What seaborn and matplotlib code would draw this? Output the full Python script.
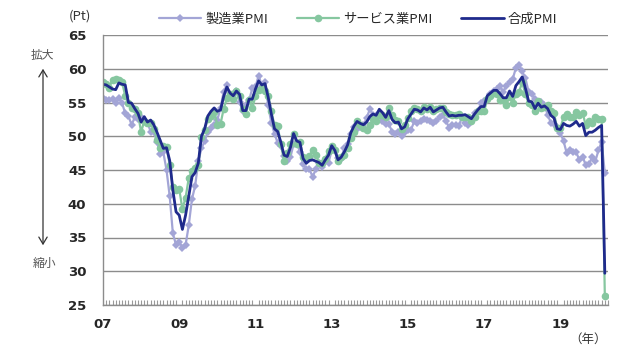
import numpy as np
import pandas as pd
import matplotlib
matplotlib.use("Agg")
import matplotlib.pyplot as plt
import seaborn as sns

# Monthly data, Jan 2007 - Mar 2020
manufacturing = [
    55.6, 55.4, 55.4, 55.5, 55.0, 55.7, 54.9, 53.4, 53.0, 51.7, 52.8, 52.6,   # 2007
    52.8, 52.3, 52.0, 50.7, 50.6, 49.2, 47.4, 47.6, 45.0, 41.1, 35.6, 33.9,   # 2008
    34.4, 33.5, 33.9, 36.8, 40.7, 42.6, 46.3, 48.2, 49.3, 50.7, 51.2, 51.6,   # 2009
    52.4, 54.2, 56.6, 57.6, 55.8, 55.6, 56.7, 55.1, 53.7, 54.6, 55.3, 57.1,   # 2010
    57.3, 59.0, 57.5, 58.0, 54.6, 52.0, 50.4, 49.0, 48.5, 47.1, 46.4, 46.9,   # 2011
    48.8, 49.0, 47.7, 45.9, 45.1, 45.1, 44.0, 45.1, 46.1, 45.4, 46.2, 46.1,   # 2012
    47.9, 47.9, 46.8, 46.7, 48.3, 48.8, 50.3, 51.4, 51.1, 51.3, 51.6, 52.7,   # 2013
    54.0, 53.2, 53.0, 53.4, 52.2, 51.8, 51.8, 50.7, 50.3, 50.6, 50.1, 50.6,   # 2014
    51.0, 51.0, 52.2, 52.0, 52.2, 52.5, 52.4, 52.3, 52.0, 52.3, 52.8, 53.2,   # 2015
    52.3, 51.2, 51.6, 51.7, 51.5, 52.8, 52.0, 51.7, 52.6, 53.5, 53.7, 54.9,   # 2016
    55.2, 55.4, 56.2, 56.7, 57.0, 57.4, 56.6, 57.4, 58.1, 58.5, 60.1, 60.6,   # 2017
    59.6, 58.6, 56.6, 56.2, 55.5, 54.9, 55.1, 54.6, 53.2, 52.0, 51.8, 51.4,   # 2018
    50.5, 49.3, 47.5, 47.9, 47.7, 47.6, 46.5, 47.0, 45.7, 45.9, 46.9, 46.3,   # 2019
    47.9, 49.2, 44.5,                                                         # 2020
]
services = [
    58.0, 57.7, 57.2, 58.4, 58.5, 58.3, 58.0, 56.0, 55.0, 54.2, 54.1, 53.4,   # 2007
    50.6, 52.3, 52.0, 52.0, 51.1, 49.5, 48.3, 48.5, 48.4, 45.8, 42.5, 42.1,   # 2008
    42.2, 39.2, 40.9, 43.8, 44.8, 45.3, 45.7, 49.9, 50.9, 52.6, 53.0, 53.6,   # 2009
    51.7, 51.8, 54.1, 55.6, 56.2, 55.5, 56.7, 55.9, 54.1, 53.3, 55.4, 54.2,   # 2010
    55.9, 56.8, 57.2, 56.7, 56.0, 53.7, 51.6, 51.5, 48.8, 46.4, 47.5, 48.8,   # 2011
    50.4, 48.8, 49.2, 46.9, 46.7, 47.1, 47.9, 47.2, 46.1, 46.0, 46.7, 47.8,   # 2012
    48.6, 47.9, 46.4, 47.0, 47.2, 48.3, 49.8, 50.7, 52.2, 51.6, 51.2, 51.0,   # 2013
    51.6, 52.6, 52.2, 53.1, 53.2, 52.8, 54.2, 53.1, 52.4, 52.3, 51.1, 51.6,   # 2014
    52.7, 53.7, 54.2, 54.1, 53.8, 54.4, 54.0, 54.4, 53.7, 54.1, 54.2, 54.2,   # 2015
    53.6, 53.3, 53.1, 53.1, 53.3, 52.8, 52.9, 52.8, 52.2, 52.8, 53.8, 53.7,   # 2016
    53.7, 55.5, 56.0, 56.4, 56.3, 55.4, 55.4, 54.7, 55.8, 55.0, 56.2, 56.6,   # 2017
    58.0, 56.2, 54.9, 54.7, 53.8, 55.2, 54.2, 54.4, 54.7, 53.7, 53.4, 51.2,   # 2018
    51.2, 52.8, 53.3, 52.8, 52.9, 53.6, 53.2, 53.5, 51.6, 52.2, 51.9, 52.8,   # 2019
    52.5, 52.6, 26.4,                                                         # 2020
]
composite = [
    57.7, 57.6, 57.3, 57.0, 56.9, 57.9, 57.7, 57.6, 55.0, 54.9, 54.1, 53.4,   # 2007
    52.1, 52.9, 52.1, 52.4, 51.7, 50.6, 49.4, 48.2, 48.3, 46.4, 42.0, 38.8,   # 2008
    38.3, 36.2, 38.3, 41.1, 44.0, 44.6, 46.0, 50.0, 51.1, 53.0, 53.7, 54.2,   # 2009
    53.7, 53.9, 55.9, 57.3, 56.4, 56.0, 56.7, 56.2, 53.8, 53.8, 55.5, 55.5,   # 2010
    57.0, 58.2, 57.6, 57.8, 55.8, 53.3, 51.1, 50.7, 49.1, 47.2, 47.0, 48.3,   # 2011
    50.4, 49.3, 49.1, 46.7, 46.0, 46.4, 46.5, 46.3, 46.1, 45.7, 46.5, 47.2,   # 2012
    48.6, 47.9, 46.5, 46.9, 47.7, 48.7, 50.5, 51.5, 52.2, 51.9, 51.7, 52.1,   # 2013
    52.9, 53.3, 53.1, 54.0, 53.5, 52.8, 53.8, 52.5, 52.0, 52.1, 51.1, 51.4,   # 2014
    52.6, 53.3, 54.0, 53.9, 53.6, 54.2, 53.9, 54.3, 53.6, 53.9, 54.2, 54.3,   # 2015
    53.6, 53.0, 53.1, 53.0, 53.1, 53.1, 53.2, 52.9, 52.6, 53.3, 53.9, 54.4,   # 2016
    54.4, 56.0, 56.4, 56.8, 56.8, 56.3, 55.7, 55.7, 56.7, 55.9, 57.5, 58.1,   # 2017
    58.8, 57.1, 55.2, 55.1, 54.1, 54.9, 54.3, 54.5, 54.1, 53.1, 52.7, 51.1,   # 2018
    51.0, 51.9, 51.6, 51.5, 51.8, 52.2, 51.5, 51.9, 50.1, 50.6, 50.6, 50.9,   # 2019
    51.3, 51.6, 29.7,                                                         # 2020
]
series_names = ["製造業PMI", "サービス業PMI", "合成PMI"]
year_labels = ["07", "09", "11", "13", "15", "17", "19"]
y_ticks = [25, 30, 35, 40, 45, 50, 55, 60, 65]

n = len(composite)
month_idx = np.arange(n)
df = pd.DataFrame({
    "month": np.concatenate([month_idx] * 3),
    "value": manufacturing + services + composite,
    "series": np.repeat(series_names, n),
})

sns.set_theme(style="white")
plt.rcParams["font.family"] = ["Noto Sans CJK JP", "DejaVu Sans"]

fig = plt.figure(figsize=(6.29, 3.49), dpi=100)
ax = fig.add_axes([103 / 629, 1 - 305 / 349, (608 - 103) / 629, (305 - 35) / 349])

colors = {"製造業PMI": "#A3A5D6", "サービス業PMI": "#86C7A0", "合成PMI": "#1F2A8C"}
styles = {
    "製造業PMI": dict(marker="D", markersize=4.2, linewidth=1.6),
    "サービス業PMI": dict(marker="o", markersize=5.5, linewidth=1.6),
    "合成PMI": dict(marker=None, linewidth=2.0),
}
for name in series_names:
    sub = df[df["series"] == name]
    sns.lineplot(data=sub, x="month", y="value", ax=ax, color=colors[name],
                 label=name, markeredgewidth=0, legend=False, **styles[name])

ax.set_xlim(0, 158.8)
ax.set_ylim(25, 65)
ax.set_yticks(y_ticks)
ax.set_yticklabels([str(v) for v in y_ticks], fontsize=9.5, fontweight="bold",
                   family=["DejaVu Sans"])
ax.set_xticks(np.arange(0, n, 24))
ax.set_xticklabels(year_labels, fontsize=9.5, fontweight="bold", family=["DejaVu Sans"])
ax.set_xticks(np.arange(0, n + 1, 1), minor=True)
ax.tick_params(axis="x", which="major", length=0, pad=9)
ax.tick_params(axis="x", which="minor", direction="in", length=3.5, width=0.8,
               color="#999999", bottom=True)
ax.tick_params(axis="y", length=0, pad=12)
ax.set_xlabel("")
ax.set_ylabel("")

ax.grid(axis="y", color="#8c8c8c", linewidth=1.0)
ax.grid(axis="x", visible=False)
ax.set_axisbelow(True)
for s in ["top", "right"]:
    ax.spines[s].set_visible(False)
for s in ["left", "bottom"]:
    ax.spines[s].set_color("#8c8c8c")
    ax.spines[s].set_linewidth(1.0)

handles, labels = ax.get_legend_handles_labels()
fig.legend(handles, labels, loc="center", bbox_to_anchor=(358 / 629, 1 - 19 / 349),
           ncol=3, frameon=False, fontsize=9.5, handlelength=3.2, columnspacing=2.2,
           handletextpad=0.3, numpoints=1)

fig.text(80 / 629, 1 - 16 / 349, "(Pt)", ha="center", va="center", fontsize=9.5,
         color="#333333")
fig.text(588 / 629, 1 - 339 / 349, "（年）", ha="center", va="center", fontsize=9,
         color="#333333")
fig.text(42 / 629, 1 - 55 / 349, "拡大", ha="center", va="center", fontsize=8.5,
         color="#555555")
fig.text(44 / 629, 1 - 263 / 349, "縮小", ha="center", va="center", fontsize=8.5,
         color="#555555")
fig.add_artist(matplotlib.patches.FancyArrowPatch(
    (43 / 629, 1 - 248 / 349), (43 / 629, 1 - 66 / 349), transform=fig.transFigure,
    arrowstyle="<->,head_length=5,head_width=3", color="#333333", linewidth=0.9))

fig.savefig("out.png", dpi=100)
